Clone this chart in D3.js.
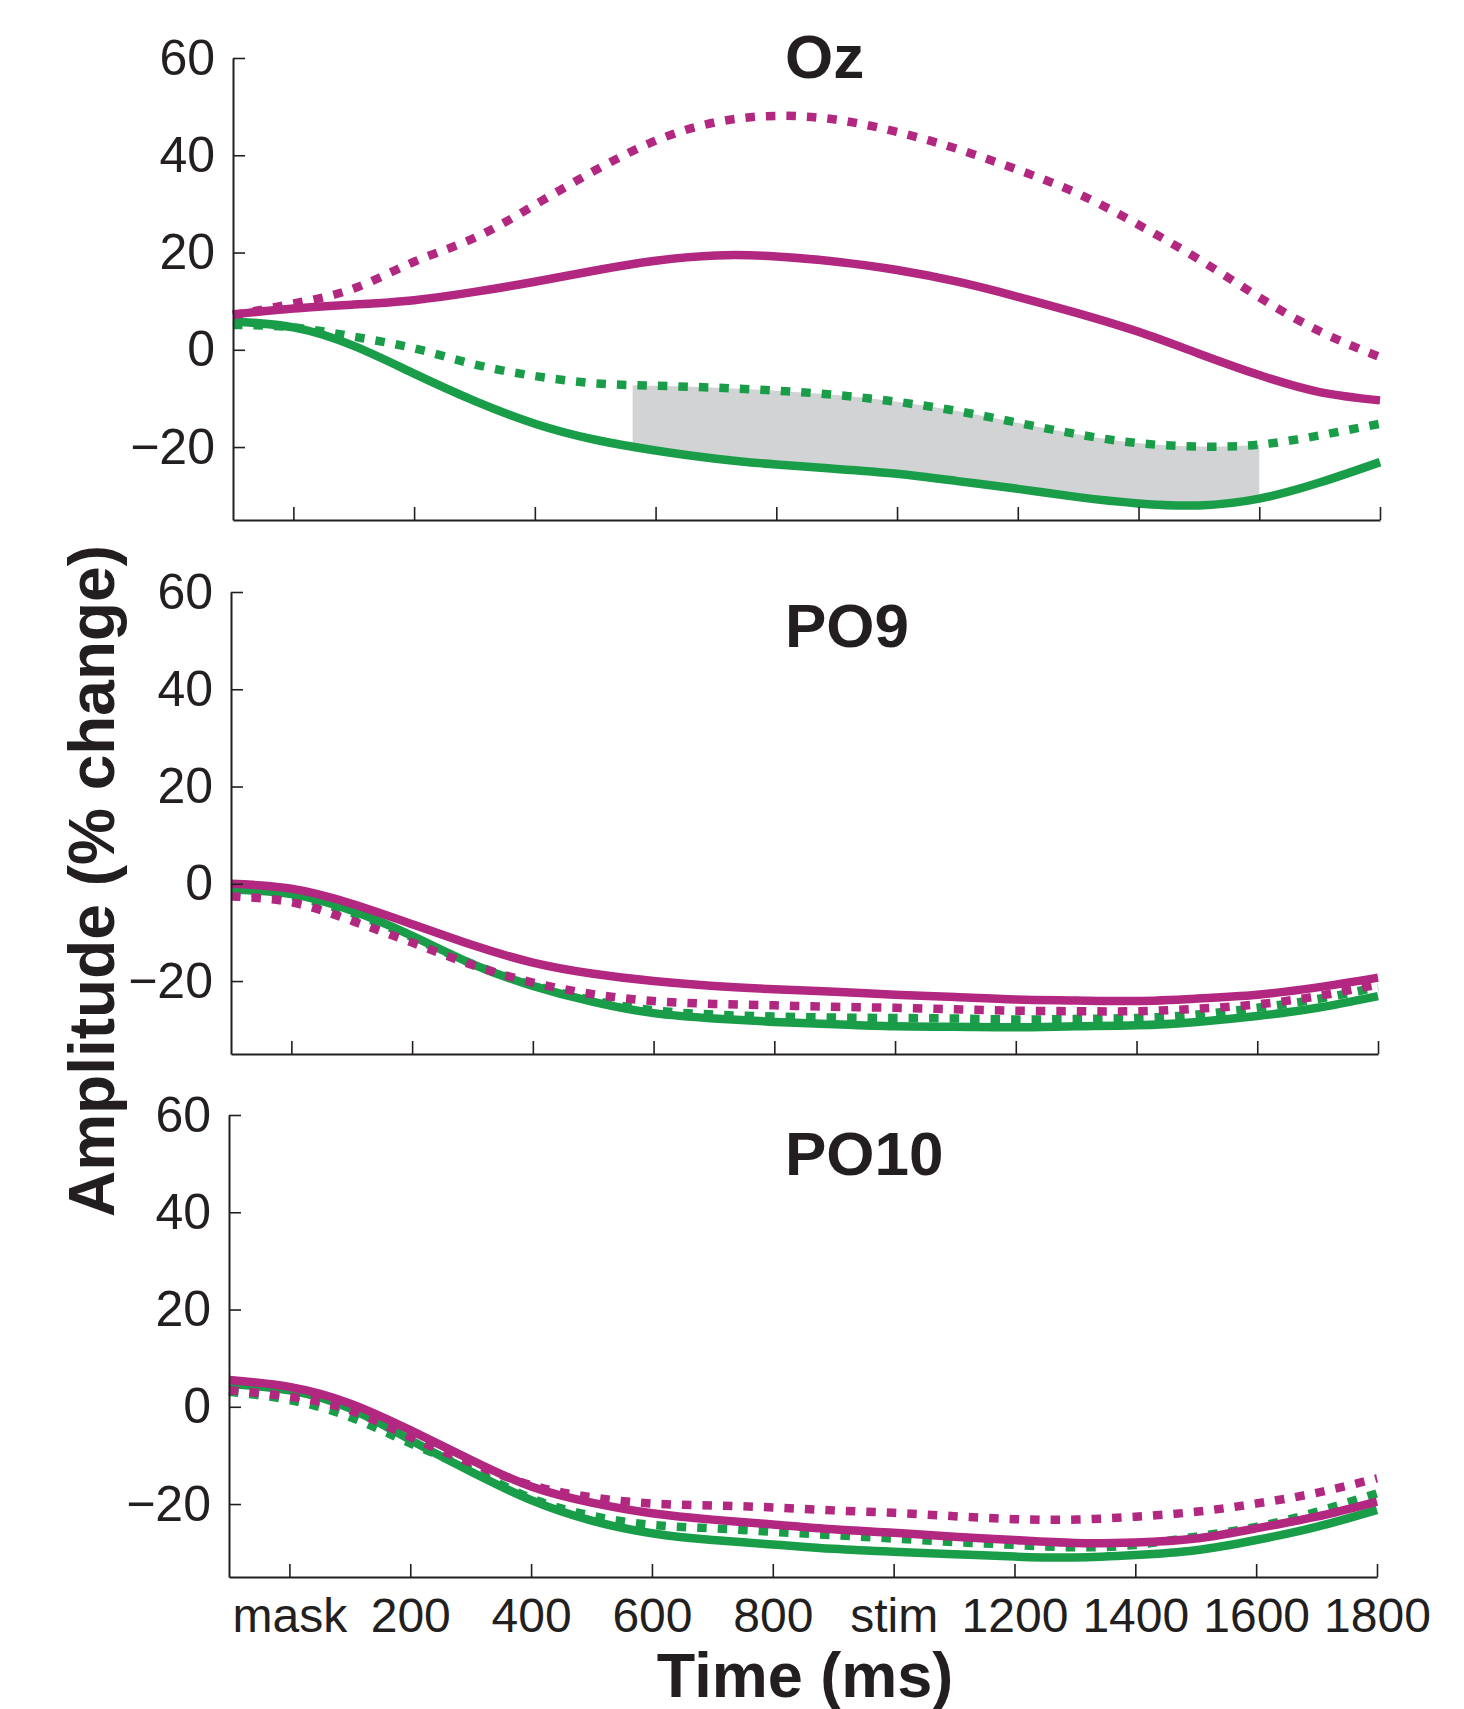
<!DOCTYPE html>
<html>
<head>
<meta charset="utf-8">
<script src="https://cdn.jsdelivr.net/npm/d3@7"></script>
<style>
  body { margin: 0; background: #fff; }
  .chart text { font-family: "Liberation Sans", Arial, Helvetica, sans-serif; fill: #231f20; }
</style>
</head>
<body>
<div class="chart"></div>
<script>
// ERP amplitude over time at three electrodes (Oz, PO9, PO10)

// Data: time points (ms), 100 ms apart

var times = [-100, 0, 100, 200, 300, 400, 500, 600, 700, 800, 900,
             1000, 1100, 1200, 1300, 1400, 1500, 1600, 1700, 1800];

var xTickValues = [0, 200, 400, 600, 800, 1000, 1200, 1400, 1600, 1800];
var xTickLabels = ["mask", "200", "400", "600", "800", "stim", "1200", "1400", "1600", "1800"];
var yTickValues = [-20, 0, 20, 40, 60];

var panelNames = ["Oz", "PO9", "PO10"];

// Oz
var ozMagentaSolid = [7.3, 8.5, 9.3, 10.2, 11.9, 14.0, 16.3, 18.3, 19.4, 19.2, 18.1,
                      16.4, 14.0, 10.9, 7.5, 3.7, -0.8, -5.2, -8.7, -10.4];
var ozMagentaDotted = [7.1, 9.5, 12.6, 18.1, 23.0, 29.8, 36.9, 43.0, 46.8, 48.1, 47.3,
                       44.8, 41.3, 37.0, 32.1, 25.7, 18.6, 10.8, 3.8, -1.5];
var ozGreenSolid = [5.8, 4.6, 0.8, -4.9, -10.5, -15.2, -18.5, -20.7, -22.4, -23.6, -24.5,
                    -25.5, -27.0, -28.6, -30.3, -31.6, -32.0, -30.6, -27.3, -23.1];
var ozGreenDotted = [5.1, 4.6, 2.7, 0.3, -3.0, -5.4, -6.9, -7.4, -7.8, -8.4, -9.3,
                     -10.7, -12.6, -15.0, -17.4, -19.2, -19.9, -19.5, -17.6, -15.2];

// PO9
var po9MagentaSolid = [0.0, -1.0, -4.1, -8.3, -12.6, -16.2, -18.5, -20.0, -21.0, -21.7, -22.2,
                       -22.8, -23.3, -23.8, -24.0, -24.1, -23.6, -22.8, -21.3, -19.3];
var po9MagentaDotted = [-2.6, -3.8, -7.6, -12.1, -16.7, -20.3, -22.7, -24.1, -24.7, -25.0, -25.3,
                        -25.5, -25.8, -26.1, -26.2, -26.2, -25.7, -24.8, -23.1, -20.7];
var po9GreenSolid = [-1.2, -2.1, -5.5, -10.7, -16.5, -21.0, -24.3, -26.6, -27.7, -28.4, -28.9,
                     -29.3, -29.4, -29.5, -29.3, -29.1, -28.4, -27.2, -25.5, -23.1];
var po9GreenDotted = [-1.7, -2.6, -6.0, -11.0, -16.5, -20.8, -24.0, -26.0, -26.9, -27.3, -27.5,
                      -27.6, -27.7, -27.9, -27.8, -27.6, -26.9, -25.5, -23.7, -21.2];

// PO10
var po10MagentaSolid = [5.5, 4.1, 0.7, -4.8, -10.9, -16.4, -19.7, -21.9, -23.2, -24.2, -25.2,
                        -25.9, -26.7, -27.4, -28.0, -27.9, -27.1, -25.0, -22.6, -19.5];
var po10MagentaDotted = [3.4, 2.1, -0.7, -6.2, -11.5, -16.1, -18.6, -19.9, -20.3, -20.7, -21.3,
                         -21.8, -22.5, -23.1, -23.2, -22.6, -21.6, -19.9, -17.7, -14.7];
var po10GreenSolid = [4.7, 3.4, -0.3, -6.8, -13.3, -19.2, -23.4, -26.0, -27.4, -28.3, -29.2,
                      -29.8, -30.3, -30.8, -31.0, -30.5, -29.5, -27.4, -24.7, -21.2];
var po10GreenDotted = [3.1, 1.4, -2.1, -7.5, -12.9, -18.8, -22.4, -24.3, -25.0, -25.7, -26.4,
                       -27.1, -27.8, -28.4, -28.9, -28.4, -26.7, -24.7, -21.6, -17.8];

// significant window (ms) shaded between the two green traces in Oz
var ozShadeRange = [562, 1600];

// Layout

var svgWidth = 1464;
var svgHeight = 1709;

var magenta = "#b22780";
var green = "#1a9d49";
var axisColor = "#231f20";

var panels = [
    { name: panelNames[0], left: 233, right: 1380, top: 58, bottom: 520, titleY: 78,
      series: [ozGreenSolid, ozGreenDotted, ozMagentaDotted, ozMagentaSolid], shade: ozShadeRange },
    { name: panelNames[1], left: 231, right: 1378, top: 592, bottom: 1054, titleY: 647,
      series: [po9GreenSolid, po9GreenDotted, po9MagentaDotted, po9MagentaSolid] },
    { name: panelNames[2], left: 229, right: 1377, top: 1115, bottom: 1577, titleY: 1175,
      series: [po10GreenSolid, po10GreenDotted, po10MagentaDotted, po10MagentaSolid], labels: true }
];

// order matches the series lists above
var seriesStyles = [
    { color: green, dash: null },
    { color: green, dash: "9.5,11" },
    { color: magenta, dash: "9.5,11" },
    { color: magenta, dash: null }
];

var svg = d3.select(".chart")
    .append("svg")
    .attr("width", svgWidth)
    .attr("height", svgHeight);

var defs = svg.append("defs");

panels.forEach(function(p, i) {

    var xScale = d3.scaleLinear()
        .domain([-100, 1800])
        .range([p.left, p.right]);

    var yScale = d3.scaleLinear()
        .domain([-35, 60])
        .range([p.bottom, p.top]);

    var g = svg.append("g").attr("class", "panel");

    var curve = d3.curveNatural;

    // grey shading between the green curves
    if (p.shade) {
        defs.append("clipPath")
            .attr("id", "shade-clip-" + i)
            .append("rect")
            .attr("x", xScale(p.shade[0]))
            .attr("y", p.top)
            .attr("width", xScale(p.shade[1]) - xScale(p.shade[0]))
            .attr("height", p.bottom - p.top);

        var area = d3.area()
            .x(function(d, k) { return xScale(times[k]); })
            .y0(function(d, k) { return yScale(p.series[0][k]); })
            .y1(function(d, k) { return yScale(p.series[1][k]); })
            .curve(curve);

        g.append("path")
            .datum(times)
            .attr("d", area)
            .attr("fill", "#d1d3d4")
            .attr("clip-path", "url(#shade-clip-" + i + ")");
    }

    // the four traces
    var line = d3.line()
        .x(function(d, k) { return xScale(times[k]); })
        .y(function(d) { return yScale(d); })
        .curve(curve);

    p.series.forEach(function(values, s) {
        g.append("path")
            .datum(values)
            .attr("d", line)
            .attr("fill", "none")
            .attr("stroke", seriesStyles[s].color)
            .attr("stroke-width", 8.5)
            .attr("stroke-linecap", "butt")
            .attr("stroke-dasharray", seriesStyles[s].dash);
    });

    // axes, ticks point inward
    var leftAxis = d3.axisLeft(yScale)
        .tickValues(yTickValues)
        .tickSizeInner(-12)
        .tickSizeOuter(0)
        .tickPadding(18)
        .tickFormat(function(d) { return d < 0 ? "\u2212" + Math.abs(d) : d; });

    var bottomAxis = d3.axisBottom(xScale)
        .tickValues(xTickValues)
        .tickSizeInner(-13)
        .tickSizeOuter(0)
        .tickPadding(21)
        .tickFormat(function(d, k) { return p.labels ? xTickLabels[k] : ""; });

    var yAxisG = g.append("g")
        .attr("transform", "translate(" + p.left + ",0)")
        .call(leftAxis);

    var xAxisG = g.append("g")
        .attr("transform", "translate(0," + p.bottom + ")")
        .call(bottomAxis);

    [yAxisG, xAxisG].forEach(function(a) {
        a.select(".domain").attr("stroke", axisColor).attr("stroke-width", 2);
        a.selectAll(".tick line").attr("stroke", axisColor).attr("stroke-width", 1.6);
        a.selectAll(".tick text").attr("fill", axisColor).attr("font-family", null);
    });

    yAxisG.selectAll(".tick text").attr("font-size", 50);
    xAxisG.selectAll(".tick text").attr("font-size", 48);

    // panel title
    g.append("text")
        .attr("x", 785)
        .attr("y", p.titleY)
        .attr("font-size", 62)
        .attr("font-weight", "bold")
        .text(p.name);
});

// axis titles
svg.append("text")
    .attr("transform", "translate(114,881) rotate(-90)")
    .attr("text-anchor", "middle")
    .attr("font-size", 64)
    .attr("font-weight", "bold")
    .text("Amplitude (% change)");

svg.append("text")
    .attr("x", 805)
    .attr("y", 1697)
    .attr("text-anchor", "middle")
    .attr("font-size", 63)
    .attr("font-weight", "bold")
    .text("Time (ms)");
</script>
</body>
</html>
